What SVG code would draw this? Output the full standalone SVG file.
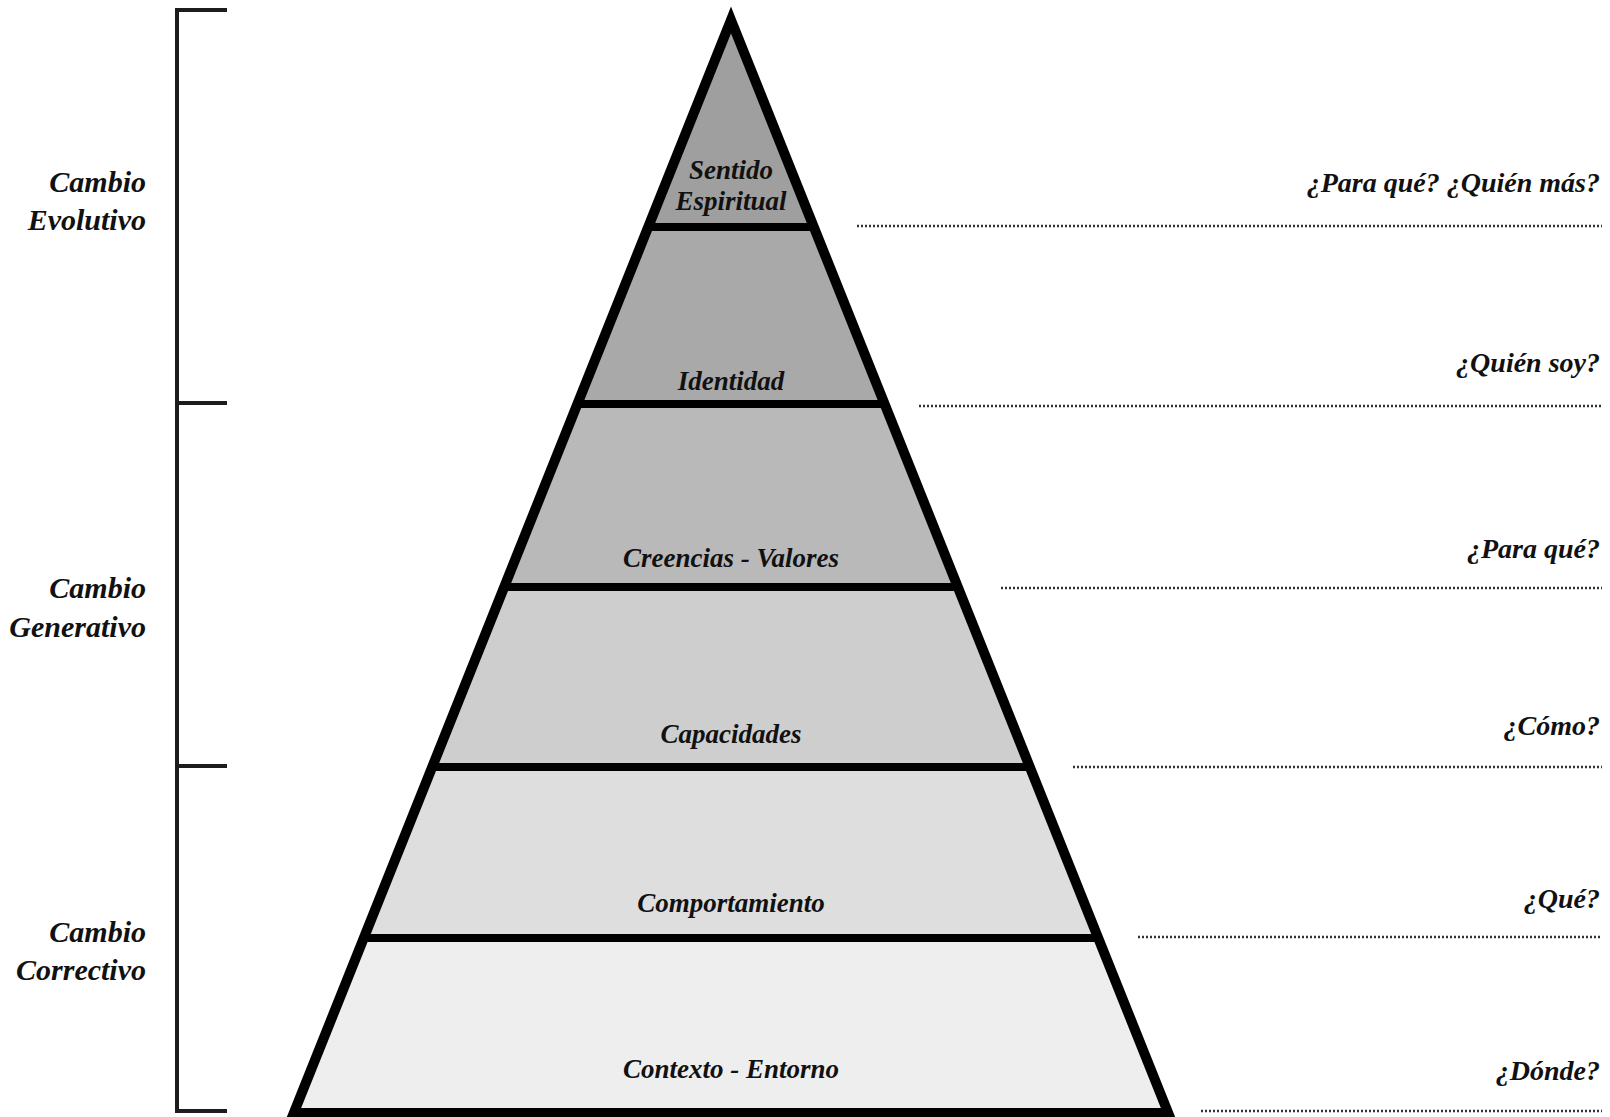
<svg xmlns="http://www.w3.org/2000/svg" width="1610" height="1117" viewBox="0 0 1610 1117">
<style>
  .lbl { font-family: "Liberation Serif", "DejaVu Serif", serif; font-style: italic; font-weight: bold; fill: #111111; }
  .band-text { font-size: 27px; text-anchor: middle; }
  .q { font-size: 28px; text-anchor: end; }
  .side { font-size: 30px; text-anchor: end; }
  .divider { stroke: #000; stroke-width: 8; }
  .dots { stroke: #333333; stroke-width: 2.6; stroke-dasharray: 2 2; fill: none; }
  .bracket { stroke: #1c1c1c; stroke-width: 4; fill: none; }
</style>
<rect x="0" y="0" width="1610" height="1117" fill="#ffffff"/>

<!-- Bracket on the left -->
<g id="bracket">
  <path class="bracket" d="M227,10 H177 V1111 H227 M177,403 H227 M177,766 H227"/>
</g>

<!-- Side labels -->
<g id="cambio-evolutivo">
  <text class="lbl side" x="146" y="192">Cambio</text>
  <text class="lbl side" x="146" y="230">Evolutivo</text>
</g>
<g id="cambio-generativo">
  <text class="lbl side" x="146" y="598">Cambio</text>
  <text class="lbl side" x="146" y="637">Generativo</text>
</g>
<g id="cambio-correctivo">
  <text class="lbl side" x="146" y="942">Cambio</text>
  <text class="lbl side" x="146" y="980">Correctivo</text>
</g>

<!-- Pyramid bands -->
<g id="band-sentido">
  <polygon points="731,20 813.8,227 648.2,227" fill="#9f9f9f"/>
  <text class="lbl band-text" x="731" y="179">Sentido</text>
  <text class="lbl band-text" x="731" y="210">Espiritual</text>
</g>
<g id="band-identidad">
  <polygon points="648.2,227 813.8,227 884.6,404 577.4,404" fill="#a9a9a9"/>
  <text class="lbl band-text" x="731" y="390">Identidad</text>
</g>
<g id="band-creencias">
  <polygon points="577.4,404 884.6,404 957.8,587 504.2,587" fill="#b9b9b9"/>
  <text class="lbl band-text" x="731" y="567">Creencias - Valores</text>
</g>
<g id="band-capacidades">
  <polygon points="504.2,587 957.8,587 1029.8,767 432.2,767" fill="#cecece"/>
  <text class="lbl band-text" x="731" y="743">Capacidades</text>
</g>
<g id="band-comportamiento">
  <polygon points="432.2,767 1029.8,767 1098.2,938 363.8,938" fill="#dedede"/>
  <text class="lbl band-text" x="731" y="912">Comportamiento</text>
</g>
<g id="band-contexto">
  <polygon points="363.8,938 1098.2,938 1168.2,1113 293.8,1113" fill="#eeeeee"/>
  <text class="lbl band-text" x="731" y="1078">Contexto - Entorno</text>
</g>

<!-- Pyramid outline and dividers -->
<g id="pyramid-frame">
  <line class="divider" x1="648.2" y1="227" x2="813.8" y2="227"/>
  <line class="divider" x1="577.4" y1="404" x2="884.6" y2="404"/>
  <line class="divider" x1="504.2" y1="587" x2="957.8" y2="587"/>
  <line class="divider" x1="432.2" y1="767" x2="1029.8" y2="767"/>
  <line class="divider" x1="363.8" y1="938" x2="1098.2" y2="938"/>
  <polygon points="731,20 1168.2,1113 293.8,1113" fill="none" stroke="#000" stroke-width="10" stroke-linejoin="miter" stroke-miterlimit="10"/>
</g>

<!-- Dotted leader lines -->
<g id="connectors">
  <line class="dots" x1="857" y1="226" x2="1602" y2="226"/>
  <line class="dots" x1="919" y1="406" x2="1602" y2="406"/>
  <line class="dots" x1="1001" y1="588" x2="1602" y2="588"/>
  <line class="dots" x1="1073" y1="767" x2="1602" y2="767"/>
  <line class="dots" x1="1138" y1="937" x2="1602" y2="937"/>
  <line class="dots" x1="1201" y1="1111" x2="1602" y2="1111"/>
</g>

<!-- Questions on the right -->
<g id="q-sentido"><text class="lbl q" x="1600" y="192">¿Para qué? ¿Quién más?</text></g>
<g id="q-identidad"><text class="lbl q" x="1600" y="372">¿Quién soy?</text></g>
<g id="q-creencias"><text class="lbl q" x="1600" y="558">¿Para qué?</text></g>
<g id="q-capacidades"><text class="lbl q" x="1600" y="735">¿Cómo?</text></g>
<g id="q-comportamiento"><text class="lbl q" x="1600" y="908">¿Qué?</text></g>
<g id="q-contexto"><text class="lbl q" x="1600" y="1080">¿Dónde?</text></g>
</svg>
